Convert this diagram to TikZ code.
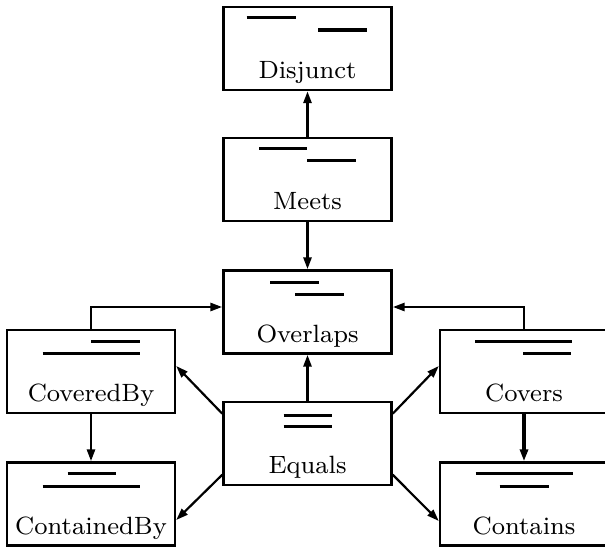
\documentclass[tikz,border=0pt]{standalone}
\usetikzlibrary{arrows.meta, calc}
\font\boxfont="[lmroman8-regular]:mapping=tex-text" at 25pt

\begin{document}
\begin{tikzpicture}[x=1pt, y=1pt, font=\boxfont,
  box/.style={draw, line width=2.4pt, minimum width=168pt, minimum height=83pt,
    text height=66pt, text depth=6pt, inner sep=0pt},
  ival/.style={line width=2.9pt},
  arr/.style={line width=2.7pt, -{Triangle[length=12pt, width=8pt]}}]
  \useasboundingbox (0,0) rectangle (605,550);
  % the eight relations
  \foreach \n/\x/\y/\lbl in {
    dj/307.5/501.5/Disjunct,
    mt/307.5/370.5/Meets,
    ov/307.5/238/Overlaps,
    cb/91/178.5/CoveredBy,
    cv/524/178.5/Covers,
    eq/307.5/106.3/Equals,
    cn/91/46/ContainedBy,
    ct/524/46/Contains
  }{
    \node[box] (\n) at (\x,\y) {\lbl};
  }
  % the two intervals in each box
  \foreach \n/\dx/\dy/\len/\w in {
    dj/-61/-11.6/49/2.9, dj/10.6/-24/49/3.6,
    mt/-48.5/-11.7/48/2.9, mt/-0.5/-24/49/2.9,
    ov/-37.5/-13/49/2.9, ov/-12.5/-25/49/2.9,
    cb/0/-12.5/48.5/2.9, cb/-48.5/-25/97/2.9,
    cv/-49/-12.5/97/2.9, cv/-1/-25/48/2.9,
    eq/-24/-14.3/48/2.9, eq/-24/-25.3/48/2.9,
    cn/-23.5/-12.3/48/2.9, cn/-48.5/-25/97/2.9,
    ct/-48.5/-12.3/97/2.9, ct/-24.5/-25/49/2.9
  }{
    \draw[ival, line width=\w pt] ([shift={(\dx,\dy)}]\n.north) -- ++(\len,0);
  }
  % transitions
  \draw[arr] (mt.north) -- (dj.south);
  \draw[arr] (mt.south) -- (ov.north);
  \draw[arr] (cb.north) |- ([yshift=5pt]ov.west);
  \draw[arr] (cv.north) |- ([yshift=5pt]ov.east);
  \draw[arr] (eq.north) -- (ov.south);
  \draw[arr, line width=2.2pt] ([yshift=30pt]eq.west) -- ([yshift=5.5pt]cb.east);
  \draw[arr, line width=2.2pt] ([yshift=30pt]eq.east) -- ([yshift=5.5pt]cv.west);
  \draw[arr, line width=2.2pt] ([yshift=-31pt]eq.west) -- ([yshift=-16pt]cn.east);
  \draw[arr, line width=2.2pt] ([yshift=-31pt]eq.east) -- ([yshift=-17pt]ct.west);
  \draw[arr] (cb.south) -- (cn.north);
  \draw[arr, line width=3.2pt] (cv.south) -- (ct.north);
\end{tikzpicture}
\end{document}
